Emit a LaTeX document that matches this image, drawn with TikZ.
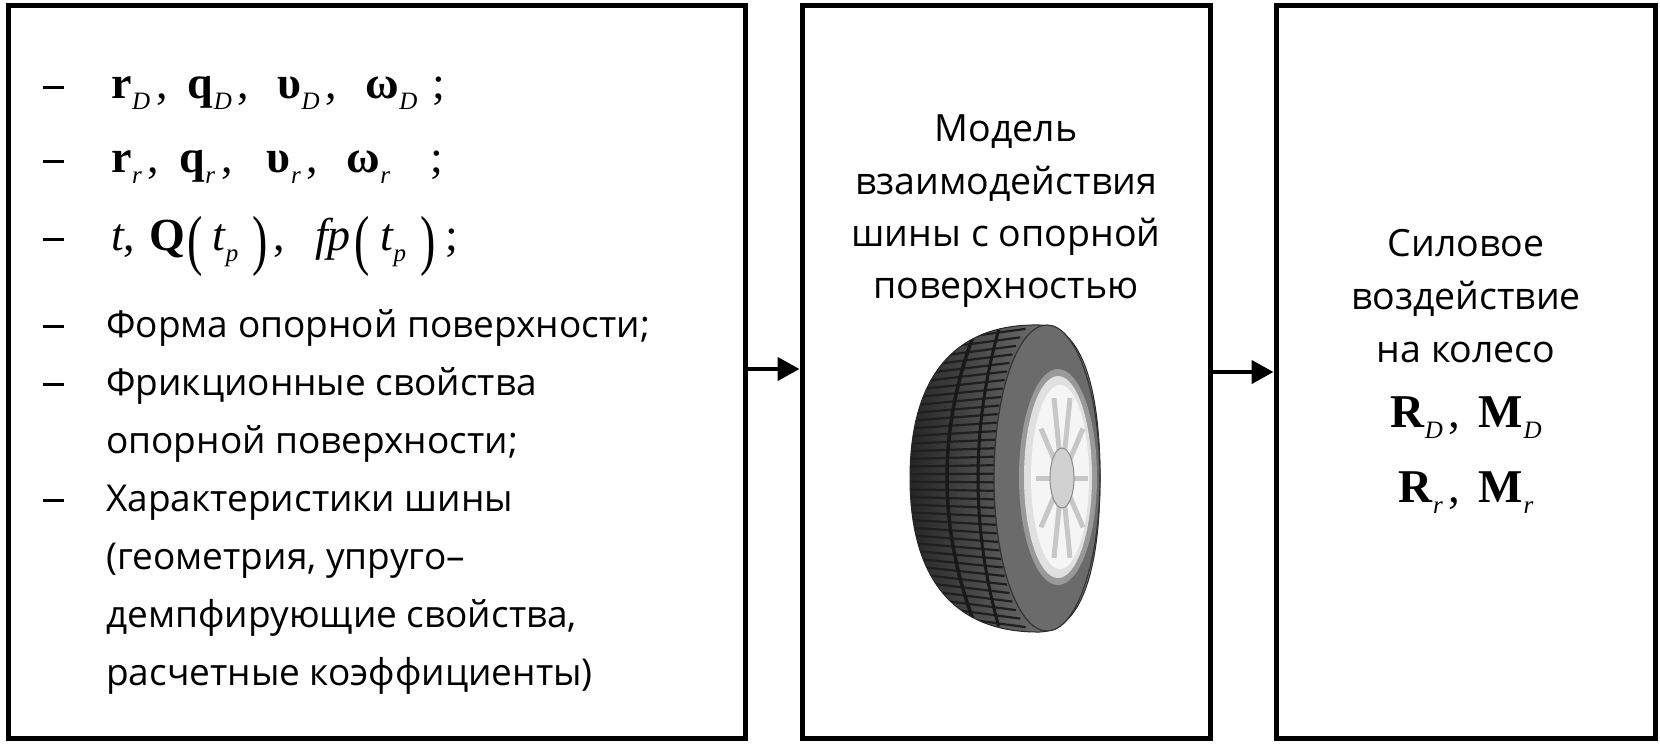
\documentclass[tikz,border=0pt]{standalone}
\usepackage{fontspec}
\usepackage{graphicx}
\usetikzlibrary{arrows.meta}
\newfontfamily\osf{Open Sans}
\newfontfamily\tmf{Liberation Serif}
\newcommand\bsym[2]{{\bfseries #1}\hspace{0.5pt}\raisebox{-0.24em}{\fontsize{25}{25}\selectfont\itshape #2}}
\newcommand\isym[2]{{\itshape #1}\hspace{0.5pt}\raisebox{-0.24em}{\fontsize{25}{25}\selectfont\itshape #2}}
\newcommand\bigpar[1]{\raisebox{-0.27em}{\scalebox{1}[1.45]{#1}}}
\newcommand\dashmark{\rule[9pt]{21pt}{2.6pt}}
\begin{document}
\begin{tikzpicture}[x=1pt,y=-1pt,
  box/.style={draw,line width=5pt,minimum height=733pt,inner sep=0pt},
  arr/.style={line width=4.5pt,-{Triangle[length=22pt,width=23pt]}},
  txt/.style={inner sep=0pt,anchor=base west,font=\osf\fontsize{37}{40}\selectfont},
  ctxt/.style={inner sep=0pt,anchor=base,font=\osf\fontsize{37.5}{40}\selectfont},
  mth/.style={inner sep=0pt,anchor=base west,font=\tmf\fontsize{46}{50}\selectfont},
  cmth/.style={inner sep=0pt,anchor=base,font=\tmf\fontsize{47}{50}\selectfont},
  dsh/.style={inner sep=0pt,anchor=base west},
  sipe/.style={line width=2.2pt,black!88},
]
\useasboundingbox (0,0) rectangle (1660,744);
% boxes
\node[box,minimum width=737pt] (b1) at (377,372) {};
\node[box,minimum width=408.5pt] (b2) at (1006.25,372) {};
\node[box,minimum width=379.5pt] (b3) at (1465.75,372) {};
% arrows
\draw[arr] ([yshift=3pt]b1.east) -- ([yshift=3pt]b2.west);
\draw[arr] (b2.east) -- (b3.west);
% left box: math rows
\node[dsh] (d1) at (43,98) {\dashmark};
\node[dsh] (d2) at (43,172) {\dashmark};
\node[dsh] (d3) at (43,250) {\dashmark};
\node[mth] (m1) at (111,98) {\bsym{r}{D}\hspace{6pt},\hspace{20pt}\bsym{q}{D}\hspace{6pt},\hspace{28pt}\bsym{υ}{D}\hspace{6pt},\hspace{28pt}\bsym{ω}{D}\hspace{15pt};};
\node[mth] (m2) at (111,172) {\bsym{r}{r}\hspace{6pt},\hspace{20pt}\bsym{q}{r}\hspace{6pt},\hspace{34pt}\bsym{υ}{r}\hspace{6pt},\hspace{28pt}\bsym{ω}{r}\hspace{40pt};};
\node[mth] (m3) at (111,250) {{\itshape t},\hspace{14pt}{\bfseries Q}\hspace{2pt}\bigpar{(}\hspace{10pt}\isym{t}{p}\hspace{14pt}\bigpar{)}\hspace{6pt},\hspace{30pt}{\itshape fp}\hspace{4pt}\bigpar{(}\hspace{10pt}\isym{t}{p}\hspace{14pt}\bigpar{)}\hspace{10pt};};
% left box: text rows
\node[dsh] (d4) at (43,337) {\dashmark};
\node[dsh] (d5) at (43,395) {\dashmark};
\node[dsh] (d6) at (43,511) {\dashmark};
\node[txt] (t1) at (106,337) {Форма опорной поверхности;};
\node[txt] (t2) at (106,395) {Фрикционные свойства};
\node[txt] (t3) at (106,453) {опорной поверхности;};
\node[txt] (t4) at (106,511) {Характеристики шины};
\node[txt] (t5) at (106,569) {(геометрия, упруго–};
\node[txt] (t6) at (106,627) {демпфирующие свойства,};
\node[txt] (t7) at (106,685) {расчетные коэффициенты)};
% middle box text
\node[ctxt] (c1) at (1006,141) {Модель};
\node[ctxt] (c2) at (1006,194) {взаимодействия};
\node[ctxt] (c3) at (1006,246) {шины с опорной};
\node[ctxt] (c4) at (1006,298) {поверхностью};
% right box text
\node[ctxt] (r1) at (1466,256) {Силовое};
\node[ctxt] (r2) at (1466,309) {воздействие};
\node[ctxt] (r3) at (1466,362) {на колесо};
\node[cmth] (r4) at (1466,427) {\bsym{R}{D}\hspace{6pt},\hspace{18pt}\bsym{M}{D}};
\node[cmth] (r5) at (1466,502) {\bsym{R}{r}\hspace{6pt},\hspace{18pt}\bsym{M}{r}};
% tire
\begin{scope}
\def\tirepath{(1040,325) .. controls (948,323) and (910,385) .. (910,478)
  .. controls (910,571) and (948,633) .. (1040,632)
  .. controls (1085,630) and (1100,560) .. (1100,478)
  .. controls (1100,396) and (1085,326) .. (1040,325) -- cycle}
\shade[left color=black!85,right color=black!45] \tirepath;
\begin{scope}
\clip \tirepath;
\foreach \yy in {330,338,...,626}{
  \pgfmathsetmacro\tt{min(1,max(-1,(\yy-478)/153))}
  \pgfmathsetmacro\xr{1047-53*sqrt(max(0,1-\tt*\tt))}
  \pgfmathsetmacro\yr{\yy+10*\tt}
  \pgfmathsetmacro\yl{\yy-8*\tt}
  \draw[sipe] (905,\yl) -- (\xr,\yr);
}
\draw[line width=3.5pt,black!90] plot[domain=-0.97:0.97,samples=30,smooth] ({947+30*\x*\x},{478+152*\x});
\draw[line width=3pt,black!90] plot[domain=-0.97:0.97,samples=30,smooth] ({978+22*\x*\x},{478+153*\x});
\end{scope}
\draw[line width=1pt,black!85] \tirepath;
\fill[black!58] (1047,478) ellipse [x radius=53, y radius=153];
\draw[line width=1.2pt,black!80] (1047,478) ellipse [x radius=53, y radius=153];
\fill[black!40] (1058,477) ellipse [x radius=39, y radius=108];
\fill[black!12] (1058,477) ellipse [x radius=34, y radius=101];
\fill[black!4] (1060,477) ellipse [x radius=29, y radius=92];
\foreach \a in {0,36,...,324}{
  \draw[line width=5pt,black!22] (1062,478) -- ++({26*cos(\a)},{84*sin(\a)});
}
\fill[black!18] (1062,478) ellipse [x radius=12, y radius=30];
\draw[line width=1pt,black!45] (1062,478) ellipse [x radius=12, y radius=30];
\end{scope}
\end{tikzpicture}
\end{document}
